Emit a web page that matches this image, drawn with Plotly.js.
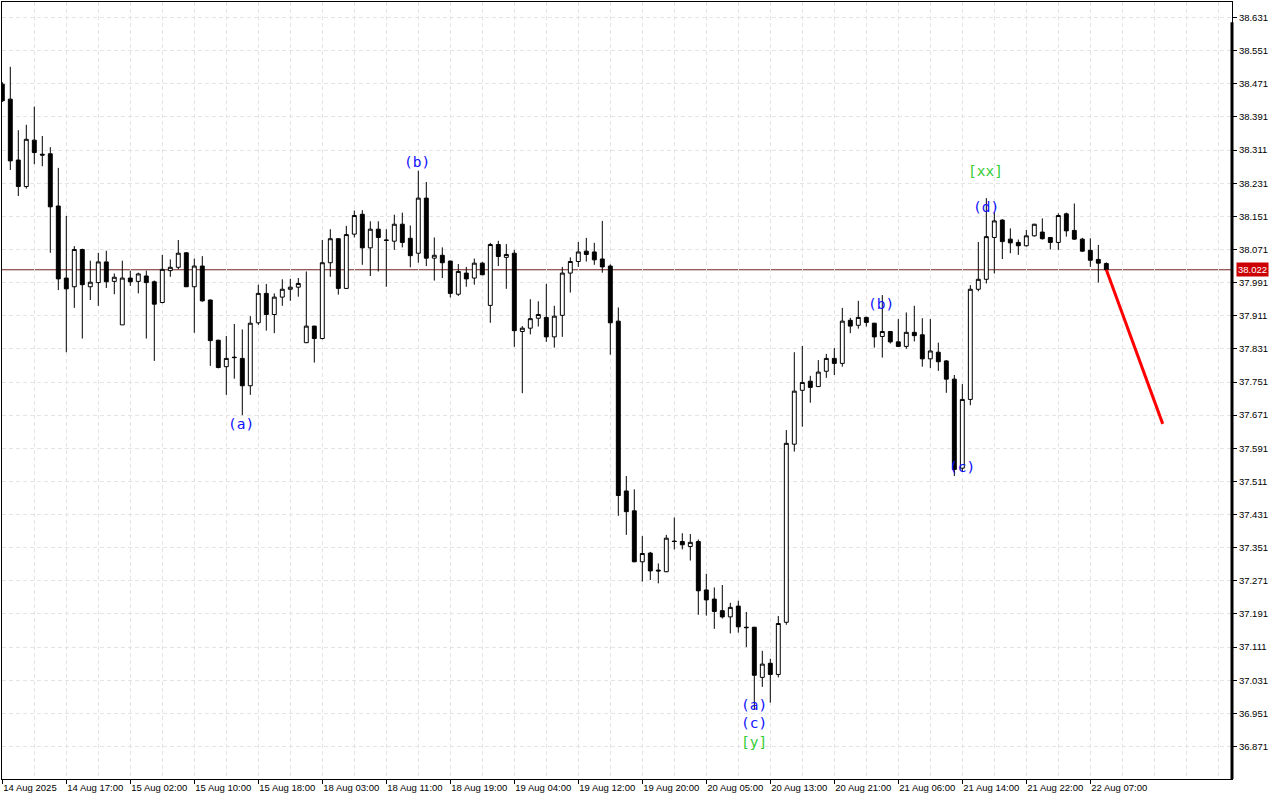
<!DOCTYPE html>
<html><head><meta charset="utf-8">
<script src="https://cdn.plot.ly/plotly-3.0.1.min.js"></script>
<style>html,body{margin:0;padding:0;background:#fff;} #chart{width:1280px;height:800px;}</style>
</head><body><div id="chart"></div>
<script>
// Hourly candles (index 0 = 14 Aug 2025 first bar)
const openP = [38.470,38.434,38.287,38.223,38.335,38.301,38.302,38.176,38.002,37.981,
38.071,37.981,37.991,38.041,37.994,37.889,38.002,37.994,38.007,37.993,
37.943,38.020,38.028,38.063,37.981,38.031,37.949,37.852,37.788,37.811,
37.808,37.742,37.894,37.965,37.914,37.956,37.975,37.980,37.846,37.886,
37.856,38.039,38.097,37.977,38.108,38.156,38.075,38.120,38.094,38.091,
38.132,38.098,38.062,38.195,38.050,38.057,38.043,37.963,38.014,38.002,
38.038,37.936,38.083,38.052,38.062,37.873,37.881,37.905,37.907,37.860,
37.912,38.014,38.042,38.067,38.065,38.048,38.031,37.898,37.488,37.440,
37.317,37.338,37.297,37.293,37.367,37.366,37.354,37.366,37.249,37.227,
37.199,37.184,37.210,37.159,37.159,37.038,37.072,37.045,37.171,37.601,
37.731,37.753,37.740,37.777,37.808,37.796,37.900,37.888,37.907,37.893,
37.861,37.873,37.848,37.837,37.871,37.865,37.807,37.823,37.802,37.758,
37.543,37.709,37.975,37.999,38.100,38.142,38.096,38.088,38.080,38.104,
38.113,38.100,38.088,38.157,38.117,38.096,38.069,38.047,38.037];
const highP = [38.475,38.512,38.359,38.372,38.416,38.345,38.318,38.268,38.152,38.079,
38.073,38.044,38.063,38.068,38.013,38.044,38.020,38.015,38.020,37.996,
38.058,38.047,38.094,38.065,38.049,38.055,37.950,37.853,37.862,37.891,
37.878,37.910,37.986,37.988,37.965,37.999,38.000,38.002,38.018,37.887,
38.094,38.120,38.098,38.128,38.165,38.166,38.139,38.139,38.120,38.155,
38.160,38.129,38.261,38.234,38.100,38.076,38.044,38.036,38.029,38.049,
38.041,38.087,38.092,38.084,38.070,37.886,37.951,37.946,37.988,37.935,
38.029,38.052,38.089,38.099,38.087,38.140,38.035,37.931,37.524,37.492,
37.379,37.341,37.313,37.382,37.424,37.386,37.384,37.371,37.288,37.255,
37.261,37.218,37.223,37.196,37.160,37.102,37.083,37.186,37.635,37.823,
37.838,37.766,37.804,37.819,37.833,37.930,37.906,37.947,37.909,37.894,
37.961,37.874,37.903,37.919,37.935,37.905,37.903,37.846,37.804,37.768,
37.746,37.985,38.089,38.195,38.160,38.144,38.122,38.095,38.118,38.133,
38.146,38.101,38.158,38.160,38.182,38.099,38.098,38.082,38.040];
const lowP = [38.427,38.263,38.200,38.218,38.277,38.272,38.063,37.973,37.823,37.930,
37.856,37.949,37.935,37.978,37.963,37.889,37.983,37.965,37.856,37.802,
37.941,38.005,38.023,37.981,37.870,37.945,37.790,37.784,37.720,37.759,
37.671,37.720,37.889,37.875,37.869,37.935,37.947,37.957,37.845,37.798,
37.854,38.005,37.962,37.976,38.100,38.034,38.007,38.018,37.981,38.070,
38.076,38.028,38.039,38.031,37.996,38.002,37.955,37.959,37.981,37.986,
38.009,37.894,38.031,37.976,37.836,37.724,37.866,37.885,37.848,37.834,
37.860,37.967,38.029,38.042,38.034,38.015,37.817,37.428,37.382,37.316,
37.269,37.273,37.265,37.292,37.347,37.347,37.320,37.189,37.187,37.155,
37.180,37.144,37.146,37.111,36.960,37.015,36.977,37.038,37.165,37.583,
37.643,37.701,37.739,37.761,37.768,37.788,37.869,37.880,37.885,37.834,
37.810,37.844,37.836,37.831,37.849,37.788,37.785,37.778,37.725,37.524,
37.534,37.695,37.970,37.989,38.013,38.048,38.062,38.058,38.078,38.102,
38.095,38.071,38.070,38.102,38.094,38.065,38.029,37.991,38.020];
const closeP = [38.430,38.285,38.223,38.337,38.305,38.299,38.174,38.000,37.976,38.071,
37.986,37.992,38.041,37.993,38.004,38.002,37.993,38.012,37.991,37.939,
38.023,38.028,38.062,37.981,38.031,37.947,37.851,37.786,37.808,37.810,
37.742,37.893,37.965,37.914,37.956,37.975,37.980,37.989,37.886,37.856,
38.039,38.097,37.977,38.107,38.153,38.075,38.120,38.100,38.093,38.132,
38.088,38.056,38.195,38.050,38.057,38.039,37.965,38.018,38.000,38.038,
38.010,38.083,38.054,38.059,37.875,37.881,37.904,37.914,37.860,37.910,
38.014,38.042,38.065,38.059,38.046,38.029,37.894,37.477,37.438,37.317,
37.337,37.295,37.295,37.374,37.366,37.358,37.364,37.247,37.225,37.197,
37.184,37.207,37.160,37.158,37.043,37.070,37.045,37.168,37.603,37.729,
37.750,37.738,37.775,37.808,37.796,37.898,37.886,37.907,37.895,37.860,
37.873,37.848,37.837,37.871,37.863,37.807,37.826,37.800,37.758,37.540,
37.709,37.975,37.999,38.102,38.140,38.090,38.087,38.080,38.104,38.132,
38.097,38.088,38.153,38.116,38.096,38.067,38.045,38.038,38.022];

const currentPrice = 38.022;
const forecastX = [138, 145.05];
const forecastY = [38.022, 37.650];

const dateTickIdx = [0,8,16,24,32,40,48,56,64,72,80,88,96,104,112,120,128,136];
const dateTickText = ['14 Aug 2025','14 Aug 17:00','15 Aug 02:00','15 Aug 10:00','15 Aug 18:00',
'18 Aug 03:00','18 Aug 11:00','18 Aug 19:00','19 Aug 04:00','19 Aug 12:00','19 Aug 20:00',
'20 Aug 05:00','20 Aug 13:00','20 Aug 21:00','21 Aug 06:00','21 Aug 14:00','21 Aug 22:00','22 Aug 07:00'];
const priceTicks = [36.871,36.951,37.031,37.111,37.191,37.271,37.351,37.431,37.511,37.591,37.671,
37.751,37.831,37.911,37.991,38.071,38.151,38.231,38.311,38.391,38.471,38.551,38.631];

const waveText  = ['(a)','(b)','(a)','(c)','[y]','(b)','(c)','(d)','[xx]'];
const waveIdx   = [29.85,51.8,93.95,93.95,93.95,109.8,120,122.95,122.95];
const wavePrice = [37.650,38.282,36.971,36.928,36.882,37.939,37.546,38.174,38.260];
const waveColor = ['#1010ff','#1010ff','#1010ff','#1010ff','#33cc33','#1010ff','#1010ff','#1010ff','#33cc33'];

const idx = openP.map((_, i) => i);

const traces = [
  {type:'candlestick', x: idx, open: openP, high: highP, low: lowP, close: closeP,
   increasing:{line:{color:'#000000', width:1}, fillcolor:'#ffffff'},
   decreasing:{line:{color:'#000000', width:1}, fillcolor:'#000000'},
   whiskerwidth:0, hoverinfo:'skip', showlegend:false},
  {type:'scatter', mode:'lines', x: forecastX, y: forecastY,
   line:{color:'#ff0000', width:3}, hoverinfo:'skip', showlegend:false}
];

const annotations = waveText.map((t, i) => ({
  x: waveIdx[i], y: wavePrice[i], xref:'x', yref:'y', text: t, showarrow:false,
  font:{family:'DejaVu Sans Mono', size:14.5, color: waveColor[i]}, xanchor:'center', yanchor:'middle'
}));
annotations.push({
  x: 1, y: currentPrice, xref:'paper', yref:'y', xanchor:'left', yanchor:'middle', xshift:4,
  text: currentPrice.toFixed(3), showarrow:false, bgcolor:'#cc0000', borderpad:1,
  font:{family:'Liberation Sans', size:9.5, color:'#ffffff'}
});

const layout = {
  width:1280, height:800,
  margin:{l:2, r:48, t:2, b:21},
  paper_bgcolor:'#ffffff', plot_bgcolor:'#ffffff',
  showlegend:false, hovermode:false,
  xaxis:{
    range:[-0.0375, 153.71], tickmode:'array', tickvals: dateTickIdx, ticktext: dateTickText,
    ticks:'outside', ticklen:4, tickcolor:'#000', ticklabelposition:'outside right', tickangle:0,
    ticklabeloverflow:'allow',
    tickfont:{family:'Liberation Sans', size:9.5, color:'#000'},
    showgrid:true, gridcolor:'#e4e4e4', griddash:'4px,3px', gridwidth:1,
    minor:{tickmode:'linear', tick0:0, dtick:4, showgrid:true, gridcolor:'#e4e4e4', griddash:'4px,3px', ticks:''},
    showline:true, linecolor:'#000', linewidth:1, mirror:true, zeroline:false,
    rangeslider:{visible:false}, fixedrange:true
  },
  yaxis:{
    side:'right', range:[36.7926, 38.6685], tickmode:'array', tickvals: priceTicks,
    ticktext: priceTicks.map(v => v.toFixed(3)),
    ticks:'outside', ticklen:4, tickcolor:'#000',
    tickfont:{family:'Liberation Sans', size:9.5, color:'#000'},
    showgrid:true, gridcolor:'#e4e4e4', griddash:'4px,3px', gridwidth:1,
    showline:true, linecolor:'#000', linewidth:1, mirror:true, zeroline:false, fixedrange:true
  },
  shapes:[
    {type:'line', xref:'paper', yref:'y', x0:0, x1:1, y0:currentPrice, y1:currentPrice,
     line:{color:'#702020', width:1}, layer:'below'},
    {type:'line', xref:'paper', yref:'paper', x0:1, x1:1, y0:0, y1:0.974,
     line:{color:'#000', width:3}}
  ],
  annotations: annotations
};

Plotly.newPlot('chart', traces, layout, {displayModeBar:false, staticPlot:true});
</script>
</body></html>
